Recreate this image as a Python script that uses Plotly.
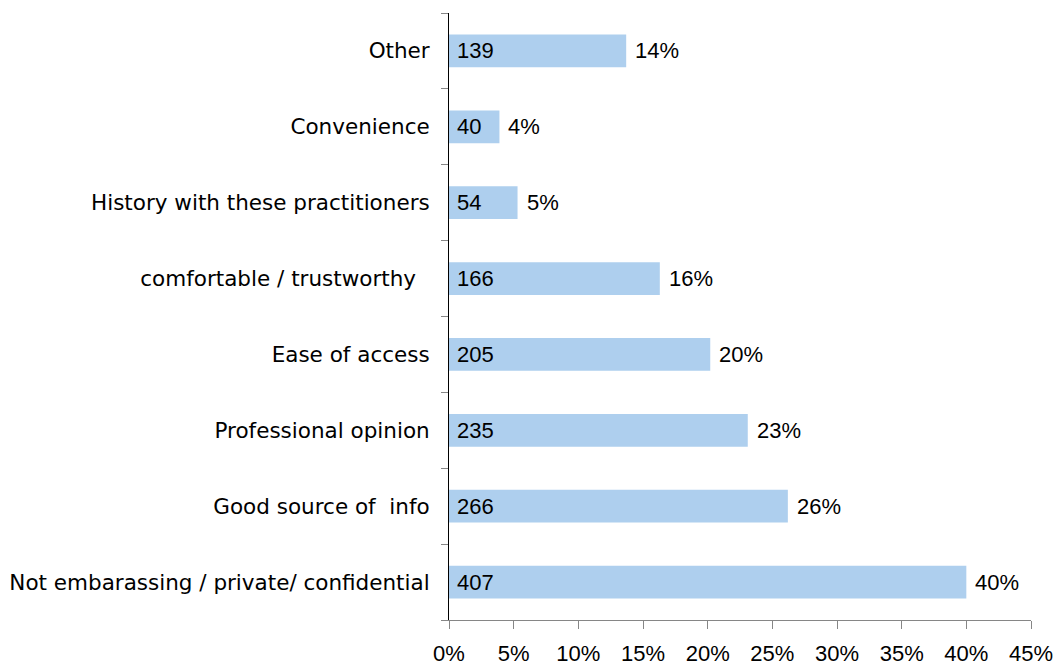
import plotly.graph_objects as go

# Reasons, listed bottom to top as they appear on the axis
reasons = [
    "Not embarassing / private/ confidential",
    "Good source of \u00a0info",
    "Professional opinion",
    "Ease of access",
    "comfortable / trustworthy\u00a0\u00a0",
    "History with these practitioners",
    "Convenience",
    "Other",
]
counts = [407, 266, 235, 205, 166, 54, 40, 139]
percent = [40.0, 26.2, 23.1, 20.2, 16.3, 5.3, 3.9, 13.7]

x_ticks = [0, 5, 10, 15, 20, 25, 30, 35, 40, 45]
x_tick_labels = [f"{t}%" for t in x_ticks]

FONT = "Liberation Sans, Arial, sans-serif"
LABEL_FONT = "DejaVu Sans, sans-serif"
BAR_COLOR = "#AECFEE"

fig = go.Figure()
fig.add_trace(
    go.Bar(
        y=reasons,
        x=percent,
        orientation="h",
        marker=dict(color=BAR_COLOR, line=dict(width=0)),
        width=0.43,
        hoverinfo="skip",
    )
)

annotations = []
for r, c, p in zip(reasons, counts, percent):
    # count inside the bar, next to the axis
    annotations.append(
        dict(x=0, y=r, text=str(c), xanchor="left", yanchor="middle",
             xshift=6, showarrow=False, font=dict(size=22, color="#000", family=FONT))
    )
    # percentage just past the end of the bar
    annotations.append(
        dict(x=p, y=r, text=f"{p:.0f}%", xanchor="left", yanchor="middle",
             xshift=7, showarrow=False, font=dict(size=22, color="#000", family=FONT))
    )

fig.update_layout(
    width=1059,
    height=666,
    margin=dict(l=449, r=28, t=13, b=46, pad=0),
    paper_bgcolor="white",
    plot_bgcolor="white",
    showlegend=False,
    font=dict(family=FONT, size=22, color="#000"),
    annotations=annotations,
    xaxis=dict(
        range=[0, 45],
        tickvals=x_ticks,
        ticktext=x_tick_labels,
        showgrid=False,
        zeroline=False,
        showline=True,
        linecolor="#868686",
        linewidth=1,
        ticks="outside",
        ticklen=8,
        tickcolor="#868686",
        ticklabelstandoff=6,
        automargin=False,
        tickfont=dict(size=22, family=FONT, color="#000"),
    ),
    yaxis=dict(
        type="category",
        categoryorder="array",
        categoryarray=reasons,
        range=[-0.5, len(reasons) - 0.5],
        showgrid=False,
        zeroline=False,
        showline=True,
        linecolor="#000",
        linewidth=1,
        ticks="outside",
        tickson="boundaries",
        ticklen=7,
        tickcolor="#868686",
        ticklabelstandoff=14,
        automargin=False,
        tickfont=dict(size=21.5, family=LABEL_FONT, color="#000"),
    ),
)

fig.write_html("out.html")
